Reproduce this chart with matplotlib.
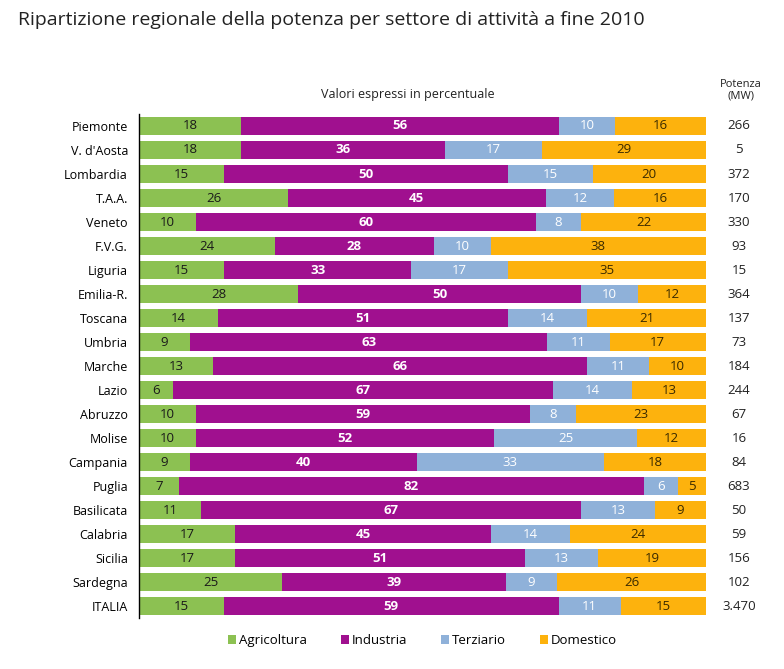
import numpy as np
import matplotlib.pyplot as plt

regions = ['Piemonte', "V. d'Aosta", 'Lombardia', 'T.A.A.', 'Veneto', 'F.V.G.', 'Liguria',
           'Emilia-R.', 'Toscana', 'Umbria', 'Marche', 'Lazio', 'Abruzzo', 'Molise',
           'Campania', 'Puglia', 'Basilicata', 'Calabria', 'Sicilia', 'Sardegna', 'ITALIA']
agricoltura = [18, 18, 15, 26, 10, 24, 15, 28, 14, 9, 13, 6, 10, 10, 9, 7, 11, 17, 17, 25, 15]
industria = [56, 36, 50, 45, 60, 28, 33, 50, 51, 63, 66, 67, 59, 52, 40, 82, 67, 45, 51, 39, 59]
terziario = [10, 17, 15, 12, 8, 10, 17, 10, 14, 11, 11, 14, 8, 25, 33, 6, 13, 14, 13, 9, 11]
domestico = [16, 29, 20, 16, 22, 38, 35, 12, 21, 17, 10, 13, 23, 12, 18, 5, 9, 24, 19, 26, 15]
potenza = ['266', '5', '372', '170', '330', '93', '15', '364', '137', '73', '184', '244',
           '67', '16', '84', '683', '50', '59', '156', '102', '3.470']

series = ['Agricoltura', 'Industria', 'Terziario', 'Domestico']
colors = ['#8cc152', '#a0108f', '#8fb1d9', '#fdb20d']
text_colors = ['#1a1a1a', 'white', 'white', '#3a2a00']
text_weights = ['normal', 'bold', 'normal', 'normal']

plt.rcParams['font.family'] = ['Open Sans', 'DejaVu Sans']

data = np.array([agricoltura, industria, terziario, domestico], dtype=float)
totals = data.sum(axis=0)
shares = data / totals * 100  # bars fill the full width

fig = plt.figure(figsize=(7.84, 6.69), dpi=100)
ax = fig.add_axes([0.1773, 0.0762, 0.7232, 0.7534])

y = np.arange(len(regions))
left = np.zeros(len(regions))
for k in range(4):
    ax.barh(y, shares[k], left=left, height=0.75, color=colors[k], label=series[k])
    for i in range(len(regions)):
        ax.text(left[i] + shares[k][i] / 2, y[i], str(int(data[k][i])),
                ha='center', va='center', fontsize=9.5, color=text_colors[k],
                fontweight=text_weights[k])
    left += shares[k]

for i in range(len(regions)):
    ax.text(1.058, y[i], potenza[i], transform=ax.get_yaxis_transform(),
            ha='center', va='center', fontsize=9.5, color='#222222')

ax.set_xlim(0, 100)
ax.set_ylim(len(regions) - 0.5, -0.5)
ax.set_yticks(y)
ax.set_yticklabels(regions, fontsize=9)
ax.tick_params(axis='y', length=0, pad=8)
ax.set_xticks([])
for s in ['top', 'right', 'bottom']:
    ax.spines[s].set_visible(False)
ax.spines['left'].set_linewidth(1.0)

fig.text(0.023, 0.97, 'Ripartizione regionale della potenza per settore di attività a fine 2010',
         fontsize=14, ha='left', va='center', color='#222222')
fig.text(0.52, 0.858, 'Valori espressi in percentuale', fontsize=9, ha='center', va='center',
         color='#222222')
fig.text(0.945, 0.865, 'Potenza\n(MW)', fontsize=8, ha='center', va='center',
         color='#222222', linespacing=1.1)

ax.legend(loc='center', bbox_to_anchor=(0.5, -0.045), ncol=4, frameon=False, fontsize=9.5,
          handlelength=0.6, handleheight=0.6, handletextpad=0.2, columnspacing=2.6)

fig.savefig('out.png', dpi=100)
